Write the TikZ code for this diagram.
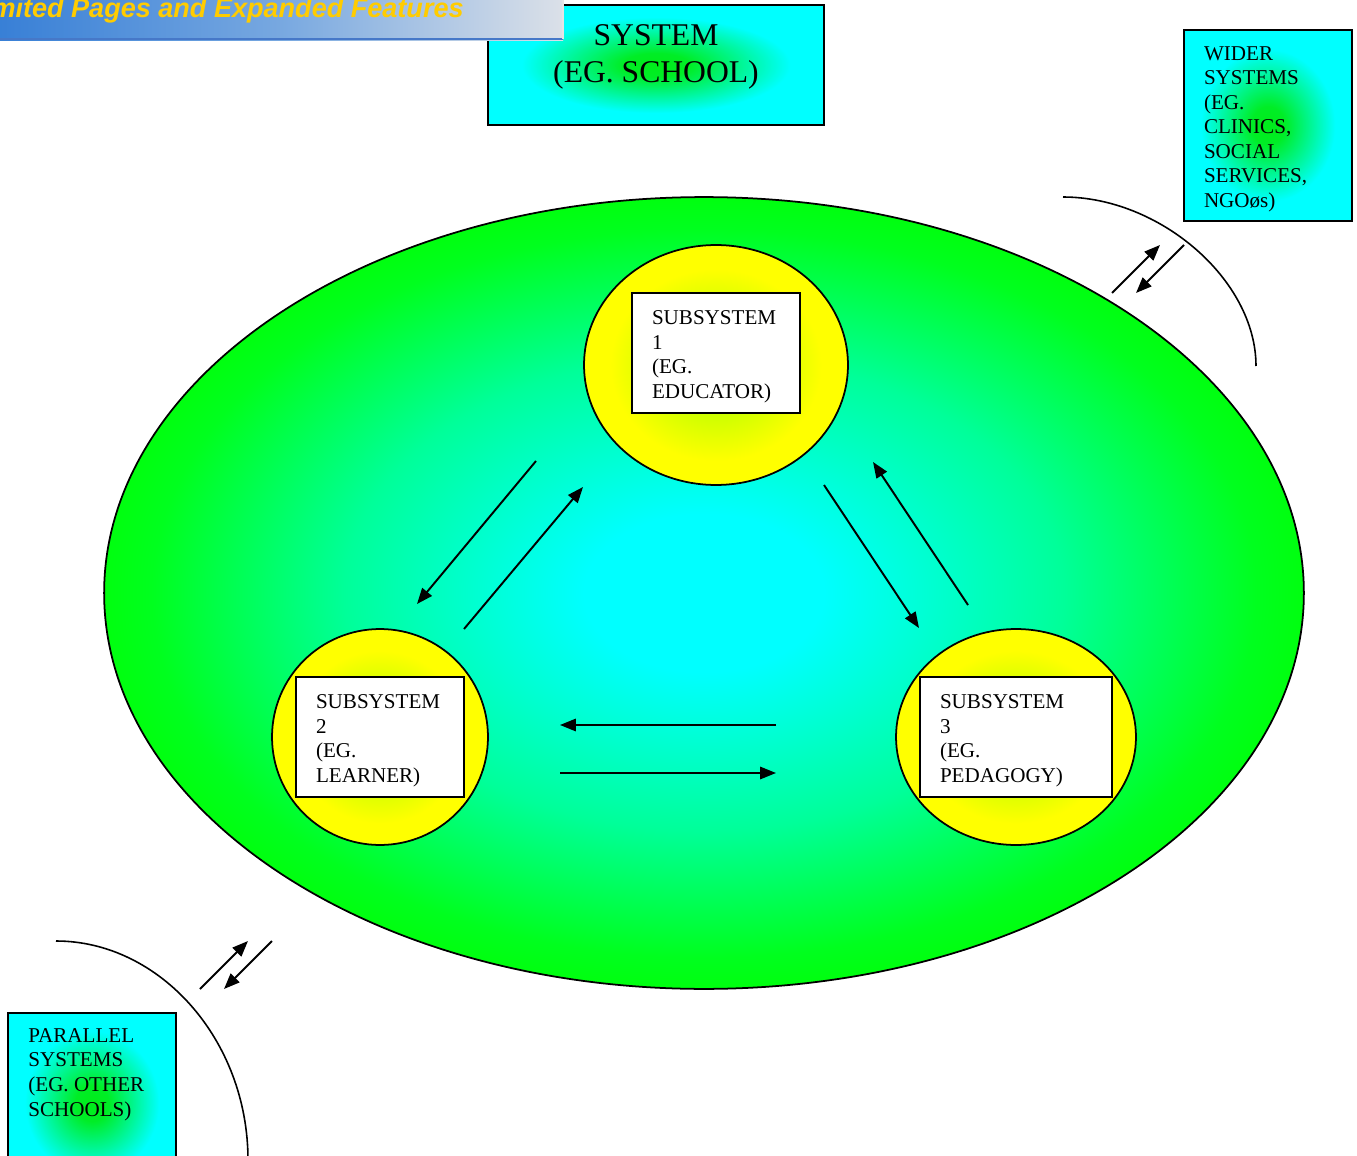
\documentclass[tikz,border=0pt]{standalone}
\usepackage{fontspec}
\setmainfont{Liberation Serif}
\newfontfamily\bannerfont{Liberation Sans}
\usetikzlibrary{arrows.meta,shapes.geometric}
\pgfdeclareradialshading{bigell}{\pgfpoint{0bp}{0bp}}{rgb(0bp)=(0,1,1); rgb(5bp)=(0,1,1); rgb(15bp)=(0,1,0.6); rgb(23bp)=(0,1,0.12); rgb(27bp)=(0,1,0); rgb(50bp)=(0,1,0)}
\pgfdeclareradialshading{yel}{\pgfpoint{0bp}{0bp}}{rgb(0bp)=(0.6,1,0); rgb(20bp)=(1,1,0); rgb(50bp)=(1,1,0)}
\pgfdeclareradialshading{cyb}{\pgfpoint{0bp}{0bp}}{rgb(0bp)=(0,0.93,0.1); rgb(5bp)=(0,0.93,0.15); rgb(20bp)=(0,1,1); rgb(50bp)=(0,1,1)}
\pgfdeclarehorizontalshading{ban}{100bp}{rgb(0bp)=(0.22,0.5,0.84); rgb(25bp)=(0.22,0.5,0.84); rgb(50bp)=(0.47,0.66,0.88); rgb(75bp)=(0.86,0.88,0.91); rgb(100bp)=(0.86,0.88,0.91)}
\definecolor{banyel}{RGB}{255,204,0}
\definecolor{banline}{RGB}{70,120,200}
\tikzset{
  bigsys/.style={ellipse, draw, line width=1pt, shading=bigell, inner sep=0pt},
  subell/.style={ellipse, draw, line width=1pt, shading=yel, inner sep=0pt},
  subbox/.style={rectangle, draw, line width=1pt, fill=white, align=left, inner xsep=0.4cm, inner ysep=0pt, minimum height=2.4cm, font=\fontsize{12}{14}\selectfont, execute at begin node={\rule{0pt}{12pt}}},
  cybox/.style={rectangle, draw, line width=1pt, shading=cyb, inner sep=0pt},
  conn/.style={line width=1.1pt, -{Triangle[length=9pt,width=7pt]}},
  arcline/.style={line width=0.9pt},
  txt/.style={font=\fontsize{12}{14}\selectfont, align=left, inner sep=0pt}
}
\begin{document}
\begin{tikzpicture}[x=0.02cm,y=-0.02cm]
\useasboundingbox (0,0) rectangle (1357,1156);
\clip (0,0) rectangle (1357,1156);
% main system ellipse
\node[bigsys, minimum width=24cm, minimum height=15.84cm] (sys) at (704,593) {};
% subsystem circles
\node[subell, minimum width=5.28cm, minimum height=4.8cm] (c1) at (716,365) {};
\node[subell, minimum width=4.32cm, minimum height=4.32cm] (c2) at (380,737) {};
\node[subell, minimum width=4.8cm, minimum height=4.32cm] (c3) at (1016,737) {};
% subsystem boxes
\node[subbox, text width=2.56cm] (s1) at (716,353) {SUBSYSTEM\\1\\(EG.\\EDUCATOR)};
\node[subbox, text width=2.56cm] (s2) at (380,737) {SUBSYSTEM\\2\\(EG.\\LEARNER)};
\node[subbox, text width=3.04cm] (s3) at (1016,737) {SUBSYSTEM\\3\\(EG.\\PEDAGOGY)};
% arrow end coordinates
\coordinate (a1s) at (536,461); \coordinate (a1e) at (417,604);
\coordinate (a2s) at (464,629); \coordinate (a2e) at (583,487);
\coordinate (b1s) at (824,485); \coordinate (b1e) at (919,628);
\coordinate (b2s) at (968,605); \coordinate (b2e) at (873,462);
\coordinate (c1s) at (776,725); \coordinate (c1e) at (560,725);
\coordinate (c2s) at (560,773); \coordinate (c2e) at (776,773);
\coordinate (d1s) at (1112,293); \coordinate (d1e) at (1160,245);
\coordinate (d2s) at (1184,245); \coordinate (d2e) at (1136,293);
\coordinate (e1s) at (200,989); \coordinate (e1e) at (248,941);
\coordinate (e2s) at (272,941); \coordinate (e2e) at (224,989);
\draw[conn] (a1s) -- (a1e);
\draw[conn] (a2s) -- (a2e);
\draw[conn] (b1s) -- (b1e);
\draw[conn] (b2s) -- (b2e);
\draw[conn] (c1s) -- (c1e);
\draw[conn] (c2s) -- (c2e);
\draw[conn] (d1s) -- (d1e);
\draw[conn] (d2s) -- (d2e);
\draw[conn] (e1s) -- (e1e);
\draw[conn] (e2s) -- (e2e);
% boundary arcs
\coordinate (tra) at (1063,197); \coordinate (trb) at (1256,366);
\coordinate (bla) at (56,941); \coordinate (blb) at (248,1160);
\draw[arcline] (tra) .. controls (1160,197) and (1256,280) .. (trb);
\draw[arcline] (bla) .. controls (160,941) and (248,1040) .. (blb);
% system box
\node[cybox, minimum width=6.72cm, minimum height=2.4cm] (sysbox) at (656,65) {};
\node[inner sep=0pt, align=center, font=\fontsize{18}{21}\selectfont] (systxt) at (656,57) {SYSTEM\\(EG. SCHOOL)};
% wider systems
\node[cybox, align=left, inner xsep=0.4cm, text width=2.56cm, minimum height=3.82cm, font=\fontsize{12}{14}\selectfont, execute at begin node={\rule{0pt}{12pt}}] (wider) at (1268,125.5) {WIDER\\SYSTEMS\\(EG.\\CLINICS,\\SOCIAL\\SERVICES,\\NGOøs)};
% parallel systems
\node[cybox, minimum width=3.36cm, minimum height=3.6cm] (par) at (92,1103) {};
\node[txt, anchor=base west] (partxt) at (28,1116) {PARALLEL\\SYSTEMS\\(EG. OTHER\\SCHOOLS)};
% banner
\shade[shading=ban] (0,-5) rectangle (563,40);
\draw[banline, line width=1.2pt] (0,39) -- (563,39);
\draw[white!80!gray, line width=0.8pt] (563,-5) -- (563,39);
\begin{scope}
\clip (0,-5) rectangle (563,40);
\node[anchor=base east, inner sep=0pt, text=banyel, font=\bannerfont\bfseries\itshape\fontsize{15.4}{18}\selectfont] (bantxt) at (464,17) {Unlimited Pages and Expanded Features};
\end{scope}
\end{tikzpicture}
\end{document}
